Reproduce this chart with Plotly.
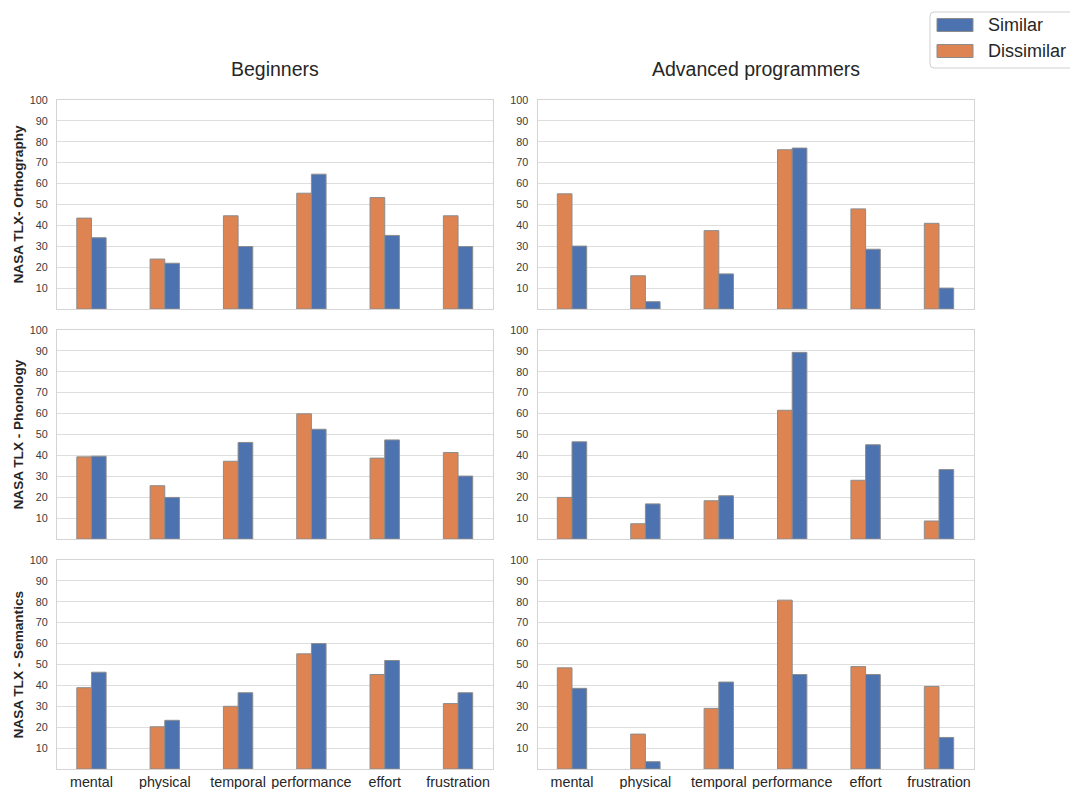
import plotly.graph_objects as go

W, H = 1070, 789

categories = ["mental", "physical", "temporal", "performance", "effort", "frustration"]
groups = ["Beginners", "Advanced programmers"]
measures = ["NASA TLX- Orthography", "NASA TLX - Phonology", "NASA TLX - Semantics"]

# Orthography
beg_orth_dissimilar = [43.5, 23.9, 44.6, 55.4, 53.3, 44.6]
beg_orth_similar = [34.1, 21.9, 29.9, 64.5, 35.2, 29.9]
adv_orth_dissimilar = [55.1, 15.9, 37.5, 76.2, 47.9, 41.0]
adv_orth_similar = [30.1, 3.5, 16.8, 77.0, 28.6, 10.0]
# Phonology
beg_phon_dissimilar = [39.3, 25.5, 37.2, 59.9, 38.7, 41.4]
beg_phon_similar = [39.6, 19.9, 46.2, 52.5, 47.4, 30.1]
adv_phon_dissimilar = [19.9, 7.3, 18.3, 61.6, 28.1, 8.6]
adv_phon_similar = [46.5, 16.8, 20.7, 89.3, 45.1, 33.2]
# Semantics
beg_sem_dissimilar = [38.9, 20.2, 30.0, 55.1, 45.2, 31.3]
beg_sem_similar = [46.3, 23.3, 36.5, 60.0, 51.9, 36.5]
adv_sem_dissimilar = [48.4, 16.7, 29.0, 80.8, 49.0, 39.5]
adv_sem_similar = [38.6, 3.5, 41.6, 45.2, 45.2, 15.1]

yticks = [10, 20, 30, 40, 50, 60, 70, 80, 90, 100]

panels = [
    [(beg_orth_dissimilar, beg_orth_similar), (adv_orth_dissimilar, adv_orth_similar)],
    [(beg_phon_dissimilar, beg_phon_similar), (adv_phon_dissimilar, adv_phon_similar)],
    [(beg_sem_dissimilar, beg_sem_similar), (adv_sem_dissimilar, adv_sem_similar)],
]

ORANGE = "#DD8452"
BLUE = "#4C72B0"
EDGE = "#8c8c8c"
GRID = "#dedede"
FRAME = "#d4d4d4"
FONT = "Liberation Sans, Arial, sans-serif"

# pixel layout of the panel grid
col_px = [(57, 492.5), (537.5, 973.5)]
row_px = [(100, 309), (330, 539), (560, 769)]


def px_x(p):
    return p / W


def px_y(p):
    return 1 - p / H


fig = go.Figure()
layout = dict(
    width=W, height=H,
    margin=dict(l=0, r=0, t=0, b=0, autoexpand=False),
    paper_bgcolor="white", plot_bgcolor="white",
    showlegend=False,
    barmode="group", bargap=0.6, bargroupgap=0,
    font=dict(family=FONT, color="#262626"),
)

annotations = []
shapes = []

idx = 0
for r in range(3):
    for c in range(2):
        idx += 1
        xa = "x" if idx == 1 else f"x{idx}"
        ya = "y" if idx == 1 else f"y{idx}"
        dis, sim = panels[r][c]
        fig.add_trace(go.Bar(
            x=categories, y=dis, name="Dissimilar", xaxis=xa, yaxis=ya,
            marker=dict(color=ORANGE, line=dict(color=EDGE, width=1)),
            offsetgroup="d",
        ))
        fig.add_trace(go.Bar(
            x=categories, y=sim, name="Similar", xaxis=xa, yaxis=ya,
            marker=dict(color=BLUE, line=dict(color=EDGE, width=1)),
            offsetgroup="s",
        ))
        x0, x1 = col_px[c]
        y0, y1 = row_px[r]
        layout["xaxis" if idx == 1 else f"xaxis{idx}"] = dict(
            domain=[px_x(x0), px_x(x1)],
            anchor=ya,
            type="category",
            categoryorder="array", categoryarray=categories,
            range=[-0.47, 5.47],
            showticklabels=(r == 2),
            tickfont=dict(size=14.3, color="#262626", family=FONT),
            ticks="",
            showgrid=False,
            showline=True, linecolor=FRAME, linewidth=1, mirror=True,
            zeroline=False,
            automargin=False,
            fixedrange=True,
        )
        layout["yaxis" if idx == 1 else f"yaxis{idx}"] = dict(
            domain=[px_y(y1), px_y(y0)],
            anchor=xa,
            range=[0, 100],
            tickvals=yticks,
            tickfont=dict(size=10.8, color="#3a3a3a", family=FONT),
            ticks="",
            ticklabelstandoff=6,
            showgrid=True, gridcolor=GRID, gridwidth=1,
            showline=True, linecolor=FRAME, linewidth=1, mirror=True,
            zeroline=False,
            automargin=False,
            fixedrange=True,
        )
    # row label on the left
    annotations.append(dict(
        text=f"<b>{measures[r]}</b>", textangle=-90,
        x=px_x(18), y=px_y((row_px[r][0] + row_px[r][1]) / 2),
        xref="paper", yref="paper", xanchor="center", yanchor="middle",
        showarrow=False,
        font=dict(size=13.6, color="#262626", family=FONT),
    ))

# column titles
for c in range(2):
    annotations.append(dict(
        text=groups[c],
        x=px_x((col_px[c][0] + col_px[c][1]) / 2), y=px_y(69),
        xref="paper", yref="paper", xanchor="center", yanchor="middle",
        showarrow=False,
        font=dict(size=19.5, color="#262626", family=FONT),
    ))

# legend box in the top-right corner
lx0, lx1, ly0, ly1, rad = 930, 1078, 12, 68, 4
path = (
    f"M {px_x(lx0 + rad)},{px_y(ly0)} L {px_x(lx1)},{px_y(ly0)} "
    f"L {px_x(lx1)},{px_y(ly1)} L {px_x(lx0 + rad)},{px_y(ly1)} "
    f"Q {px_x(lx0)},{px_y(ly1)} {px_x(lx0)},{px_y(ly1 - rad)} "
    f"L {px_x(lx0)},{px_y(ly0 + rad)} Q {px_x(lx0)},{px_y(ly0)} {px_x(lx0 + rad)},{px_y(ly0)} Z"
)
shapes.append(dict(type="path", path=path, xref="paper", yref="paper",
                   line=dict(color="#d0d0d0", width=1), fillcolor="rgba(255,255,255,0.8)"))
legend_items = [("Similar", BLUE, 25), ("Dissimilar", ORANGE, 51)]
for label, color, cy in legend_items:
    shapes.append(dict(type="rect", xref="paper", yref="paper",
                       x0=px_x(937), x1=px_x(973), y0=px_y(cy - 6.5), y1=px_y(cy + 6.5),
                       fillcolor=color, line=dict(color=EDGE, width=1)))
    annotations.append(dict(
        text=label, x=px_x(986), y=px_y(cy), xref="paper", yref="paper",
        xanchor="left", yanchor="middle", showarrow=False,
        font=dict(size=18, color="#262626", family=FONT),
    ))

layout["annotations"] = annotations
layout["shapes"] = shapes
fig.update_layout(**layout)

fig.write_html("out.html")
